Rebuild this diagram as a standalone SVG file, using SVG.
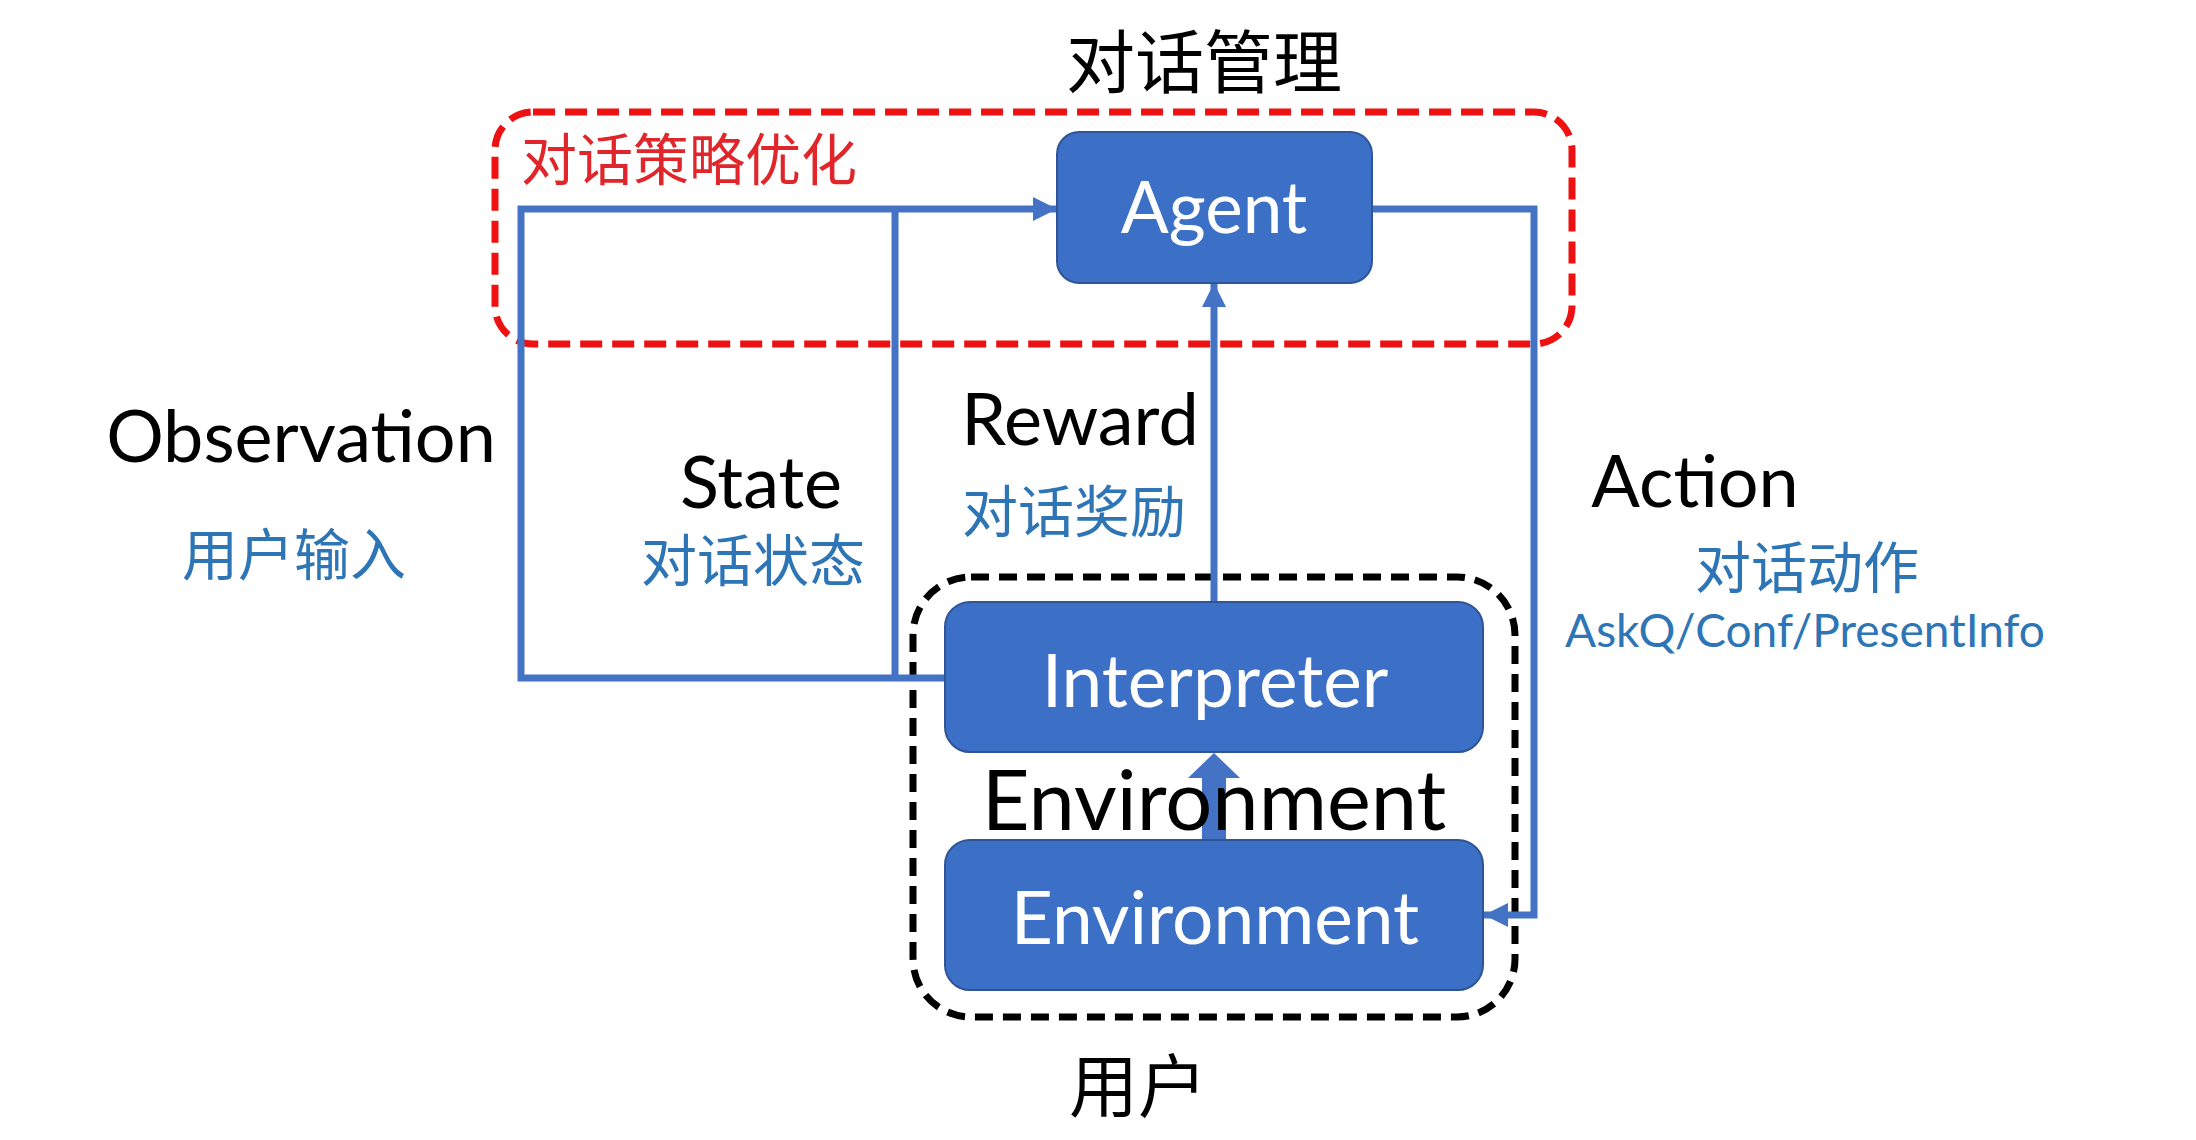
<svg xmlns="http://www.w3.org/2000/svg" width="2196" height="1140" viewBox="0 0 2196 1140">
  <defs>
    <style>
      .box { fill: #3C70C7; stroke: #2F5597; stroke-width: 2; }
      .boxlabel { fill: #FFFFFF; font-family: Lato, "Open Sans", sans-serif; text-anchor: middle; }
      .flow { fill: none; stroke: #4472C4; stroke-width: 7; stroke-linejoin: miter; }
      .term { fill: #000000; font-family: Lato, "Open Sans", sans-serif; text-anchor: middle; font-size: 72px; }
      .term-big { font-size: 83px; }
      .cn-blue { fill: #2E75B6; font-family: "Noto Sans CJK SC", sans-serif; text-anchor: middle; font-size: 56px; dominant-baseline: central; }
      .cn-black { fill: #000000; font-family: "Noto Sans CJK SC", sans-serif; text-anchor: middle; font-size: 69px; dominant-baseline: central; }
      .en-blue { fill: #2E75B6; font-family: Lato, "Open Sans", sans-serif; text-anchor: middle; font-size: 46px; }
      .frame-red { fill: none; stroke: #EE1111; stroke-width: 7; stroke-dasharray: 22 10; }
      .frame-black { fill: none; stroke: #000000; stroke-width: 7; stroke-dasharray: 18 10; }
    </style>
    <marker id="arrow" markerUnits="userSpaceOnUse" markerWidth="26" markerHeight="26" viewBox="0 0 26 26" refX="24" refY="13" orient="auto">
      <path d="M0,1 L24,13 L0,25 Z" fill="#4472C4"/>
    </marker>
  </defs>

  <!-- dialogue management frame -->
  <g id="frame-dialog-management">
    <rect class="frame-red" x="495" y="112" width="1077" height="232" rx="38" ry="38"/>
    <text class="cn-black" x="1204" y="58">对话管理</text>
    <text x="521" y="155" fill="#E0262B" font-family="'Noto Sans CJK SC', sans-serif" font-size="56" dominant-baseline="central">对话策略优化</text>
  </g>

  <!-- user frame -->
  <g id="frame-user">
    <rect class="frame-black" x="913" y="577" width="602" height="440" rx="58" ry="58"/>
    <text class="cn-black" x="1138" y="1082">用户</text>
  </g>

  <!-- connectors -->
  <g id="connectors">
    <!-- observation: interpreter -> agent -->
    <path class="flow" d="M945,678 H521 V209 H1057" marker-end="url(#arrow)"/>
    <!-- state branch -->
    <path class="flow" d="M895,678 V209"/>
    <!-- reward: interpreter -> agent -->
    <path class="flow" d="M1214,602 V283" marker-end="url(#arrow)"/>
    <!-- action: agent -> environment -->
    <path class="flow" d="M1372,209 H1534 V915 H1484" marker-end="url(#arrow)"/>
    <!-- environment -> interpreter block arrow -->
    <polygon id="edge-env-interp" points="1202,840 1202,778 1188,778 1214,753 1240,778 1226,778 1226,840" fill="#4472C4"/>
  </g>

  <!-- nodes -->
  <g id="node-agent">
    <rect class="box" x="1057" y="132" width="315" height="151" rx="22" ry="22"/>
    <text class="boxlabel" x="1214" y="233" font-size="71">Agent</text>
  </g>
  <g id="node-interpreter">
    <rect class="box" x="945" y="602" width="538" height="150" rx="25" ry="25"/>
    <text class="boxlabel" x="1215" y="707" font-size="73">Interpreter</text>
  </g>
  <g id="node-environment">
    <rect class="box" x="945" y="840" width="538" height="150" rx="25" ry="25"/>
    <text class="boxlabel" x="1215" y="944" font-size="73">Environment</text>
  </g>

  <!-- edge labels -->
  <g id="labels">
    <text class="term" x="301" y="462">Observation</text>
    <text class="cn-blue" x="294" y="550">用户输入</text>
    <text class="term" x="761" y="508">State</text>
    <text class="cn-blue" x="753" y="556">对话状态</text>
    <text class="term" x="1080" y="445">Reward</text>
    <text class="cn-blue" x="1074" y="507">对话奖励</text>
    <text class="term" x="1695" y="507">Action</text>
    <text class="cn-blue" x="1807" y="563">对话动作</text>
    <text class="en-blue" x="1805" y="647">AskQ/Conf/PresentInfo</text>
    <text class="term term-big" x="1214" y="830">Environment</text>
  </g>
</svg>
